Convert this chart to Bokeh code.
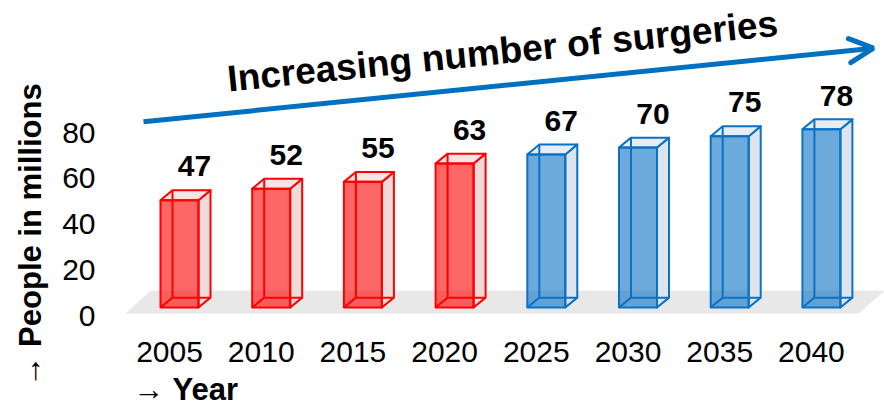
import math
from bokeh.plotting import figure
from bokeh.models import Range1d, LinearAxis, FixedTicker, Label, Arrow, OpenHead, Title
from bokeh.embed import file_html
from bokeh.resources import INLINE
from bokeh.core.properties import value

# ---------------- data ----------------
years = ["2005", "2010", "2015", "2020", "2025", "2030", "2035", "2040"]
people = [47, 52, 55, 63, 67, 70, 75, 78]
period = ["past", "past", "past", "past", "future", "future", "future", "future"]
y_ticks = [0, 20, 40, 60, 80]
headline = "Increasing number of surgeries"
y_title = "→ People in millions"
x_title = "→ Year"

# ---------------- styles ----------------
FONT = "Liberation Sans"
EDGE = {"past": "#ff0000", "future": "#0a72c4"}
SIDE = {"past": "#f0dbdb", "future": "#dde4ec"}
TOP = {"past": "#f7e4e4", "future": "#e6edf4"}
ARROW_BLUE = "#0070c0"
FLOOR = "#e8e8e8"

# ---------------- layout (pixels, picture coords) ----------------
W, H = 884, 411
FRAME_L, FRAME_R, FRAME_T, FRAME_B = 110, 884, 0, 322
X0_PX, PX = 169.0, 91.7      # x of category 0, px per category
Y0_PX, PY = 309.0, 2.3       # y of value 0, px per unit

def ix(px):
    return (px - X0_PX) / PX

def iy(py):
    return (Y0_PX - py) / PY

x_rng = Range1d(ix(FRAME_L), ix(FRAME_R))
y_rng = Range1d(iy(FRAME_B), iy(FRAME_T))

p = figure(width=W, height=H, x_range=x_rng, y_range=y_rng,
           output_backend="svg", toolbar_location=None,
           y_axis_location=None, x_axis_location="below")
p.min_border_left = FRAME_L
p.min_border_right = W - FRAME_R
p.min_border_top = FRAME_T
p.min_border_bottom = H - FRAME_B
p.outline_line_color = None
p.grid.visible = False
p.background_fill_color = "white"
p.border_fill_color = "white"

# axis value scale shifted like the reference (labels sit at floor front)
shift = 8.0 / PY
p.extra_y_ranges = {"axis": Range1d(y_rng.start + shift, y_rng.end + shift)}
yax = LinearAxis(y_range_name="axis", ticker=FixedTicker(ticks=y_ticks))
for ax in (yax, p.xaxis[0]):
    ax.axis_line_color = None
    ax.major_tick_line_color = None
    ax.minor_tick_line_color = None
    ax.major_tick_out = 0
    ax.major_tick_in = 0
    ax.major_label_text_font = FONT
    ax.major_label_text_font_size = "30px"
    ax.major_label_text_color = "#000000"
yax.major_label_standoff = 15
p.add_layout(yax, "left")

xax = p.xaxis[0]
xax.ticker = FixedTicker(ticks=list(range(len(years))))
xax.major_label_overrides = {i: y for i, y in enumerate(years)}
xax.major_label_standoff = 21

# axis titles as side-panel titles
p.add_layout(Title(text=x_title, align="left", offset=133 - FRAME_L, standoff=10,
                   text_font=FONT, text_font_style="bold", text_font_size="31px",
                   text_color="#000000"), "below")
p.add_layout(Title(text=y_title, align="left", offset=-(388 - FRAME_B),
                   vertical_align="middle", standoff=21, text_font=FONT,
                   text_font_style="bold", text_font_size="31px",
                   text_color="#000000"), "left")

# ---------------- floor ----------------
n = len(years)
fy0, fy1 = iy(315), iy(292)
fl0, fl1 = ix(125), ix(150)
last = X0_PX + (n - 1) * PX
fr0, fr1 = (n - 1) + (858 - last) / PX, (n - 1) + (884 - last) / PX
p.patch([fl0, fr0, fr1, fl1], [fy0, fy0, fy1, fy1], fill_color=FLOOR, line_color=None)

# ---------------- 3D boxes ----------------
fl_off = -9.0 / PX
fw = 38.0 / PX
dx = 12.0 / PX
dy = 10.0 / PY

side_xs, side_ys, side_c = [], [], []
top_xs, top_ys, top_c = [], [], []
back_xs, back_ys, back_c = [], [], []
fl, fr, ft, fcol = [], [], [], []
for i, (v, k) in enumerate(zip(people, period)):
    xl = i + fl_off
    xr = xl + fw
    side_xs.append([xr, xr + dx, xr + dx, xr]); side_ys.append([0, dy, v + dy, v]); side_c.append(k)
    top_xs.append([xl, xr, xr + dx, xl + dx]); top_ys.append([v, v, v + dy, v + dy]); top_c.append(k)
    back_xs += [[xl + dx, xl + dx], [xl + dx, xr + dx], [xl, xl + dx]]
    back_ys += [[dy, v + dy], [dy, dy], [0, dy]]
    back_c += [EDGE[k]] * 3
    fl.append(xl); fr.append(xr); ft.append(v); fcol.append(EDGE[k])

p.patches(side_xs, side_ys, fill_color=[SIDE[k] for k in side_c],
          line_color=[EDGE[k] for k in side_c], line_width=2, line_join="round")
p.patches(top_xs, top_ys, fill_color=[TOP[k] for k in top_c],
          line_color=[EDGE[k] for k in top_c], line_width=2, line_join="round")
p.multi_line(back_xs, back_ys, line_color=back_c, line_width=2)
p.quad(left=fl, right=fr, bottom=[0] * n, top=ft, fill_color=fcol, fill_alpha=0.6,
       line_color=fcol, line_width=2, line_join="round")

# value labels
p.text(x=[i + 25.0 / PX for i in range(n)], y=[v + dy + 24.0 / PY for v in people],
       text=[str(v) for v in people], text_align="center", text_baseline="middle",
       text_font=value(FONT), text_font_style="bold", text_font_size="30px",
       text_color="#000000")

# ---------------- headline + arrow ----------------
ang = math.atan2(122 - 48, 873 - 143)
p.add_layout(Arrow(x_start=ix(143), y_start=iy(122), x_end=ix(873), y_end=iy(48),
                   line_color=ARROW_BLUE, line_width=5,
                   end=OpenHead(size=24, line_color=ARROW_BLUE, line_width=5, line_cap="round")))
p.add_layout(Label(x=ix(227), y=iy(79), text=headline, angle=ang,
                   text_align="left", text_baseline="middle",
                   text_font=FONT, text_font_style="bold", text_font_size="37px",
                   text_color="#000000"))

open("out.html", "w").write(file_html(p, INLINE))
